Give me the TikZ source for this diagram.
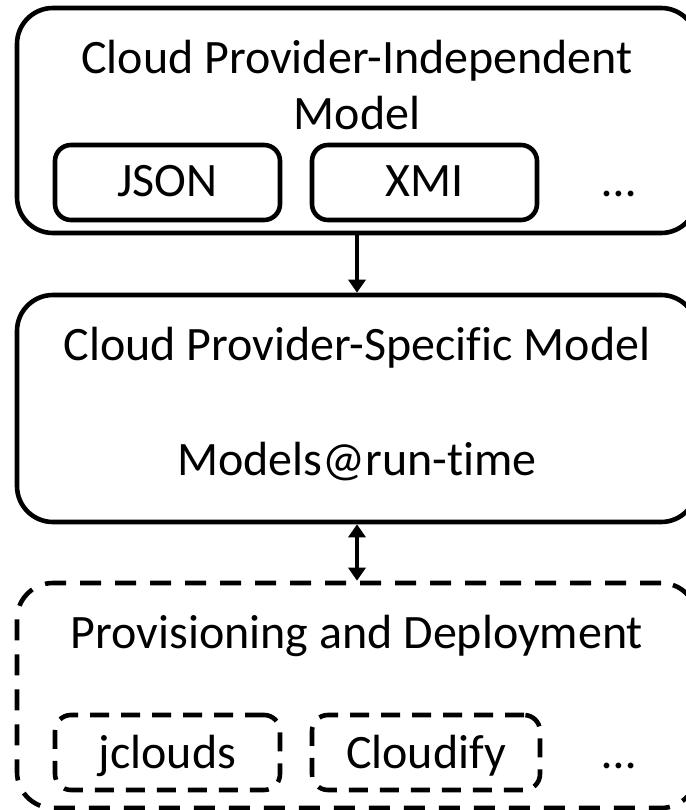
\documentclass[tikz,border=0pt]{standalone}
\usepackage{fontspec}
\setmainfont{Carlito}[Ligatures=NoCommon]
\usetikzlibrary{arrows.meta}
\begin{document}
\begin{tikzpicture}[x=1pt,y=-1pt,
  every node/.style={font=\fontsize{48}{58}\selectfont},
  bigbox/.style={draw,line width=4.6pt,rounded corners=36pt,minimum width=680pt,inner sep=0pt},
  smallbox/.style={draw,line width=4.6pt,rounded corners=16pt,minimum width=225pt,minimum height=75pt,inner sep=0pt},
  dashbig/.style={dash pattern=on 21pt off 14pt},
  dashsmall/.style={dash pattern=on 19pt off 12pt},
  txt/.style={anchor=base,inner sep=0pt},
  conn/.style={line width=4.4pt}]
\useasboundingbox (0,0) rectangle (685,810);
% boxes
\node[bigbox,minimum height=225pt] (b1) at (357,120.5) {};
\node[bigbox,minimum height=227pt] (b2) at (357,408.5) {};
\node[bigbox,dashbig,minimum height=225pt] (b3) at (357,695.5) {};
\node[smallbox] (json) at (167.5,182.5) {};
\node[smallbox] (xmi) at (424.5,182.5) {};
\node[smallbox,dashsmall] (jc) at (167.5,752.5) {};
\node[smallbox,dashsmall,minimum width=228pt] (cf) at (426,752.5) {};
% texts
\node[txt] (t1) at (357,74) {Cloud Provider-Independent};
\node[txt] (t2) at (357,130) {Model};
\node[txt] (tj) at (167.5,197) {JSON};
\node[txt] (tx) at (424.5,197) {XMI};
\node[txt] (td1) at (619,197) {…};
\node[txt] (t3) at (357,360) {Cloud Provider-Specific Model};
\node[txt] (t4) at (357,475) {Models@run-time};
\node[txt] (t5) at (357,648) {Provisioning and Deployment};
\node[txt] (tjc) at (167.5,768) {jclouds};
\node[txt] (tcf) at (426,768) {Cloudify};
\node[txt] (td2) at (619,768) {…};
% connectors
\draw[conn,-{Triangle[length=13pt,width=17pt]}] (b1.south) -- (b2.north);
\draw[conn,{Triangle[length=13pt,width=17pt]}-{Triangle[length=13pt,width=17pt]}] (b2.south) -- (b3.north);
\end{tikzpicture}
\end{document}
